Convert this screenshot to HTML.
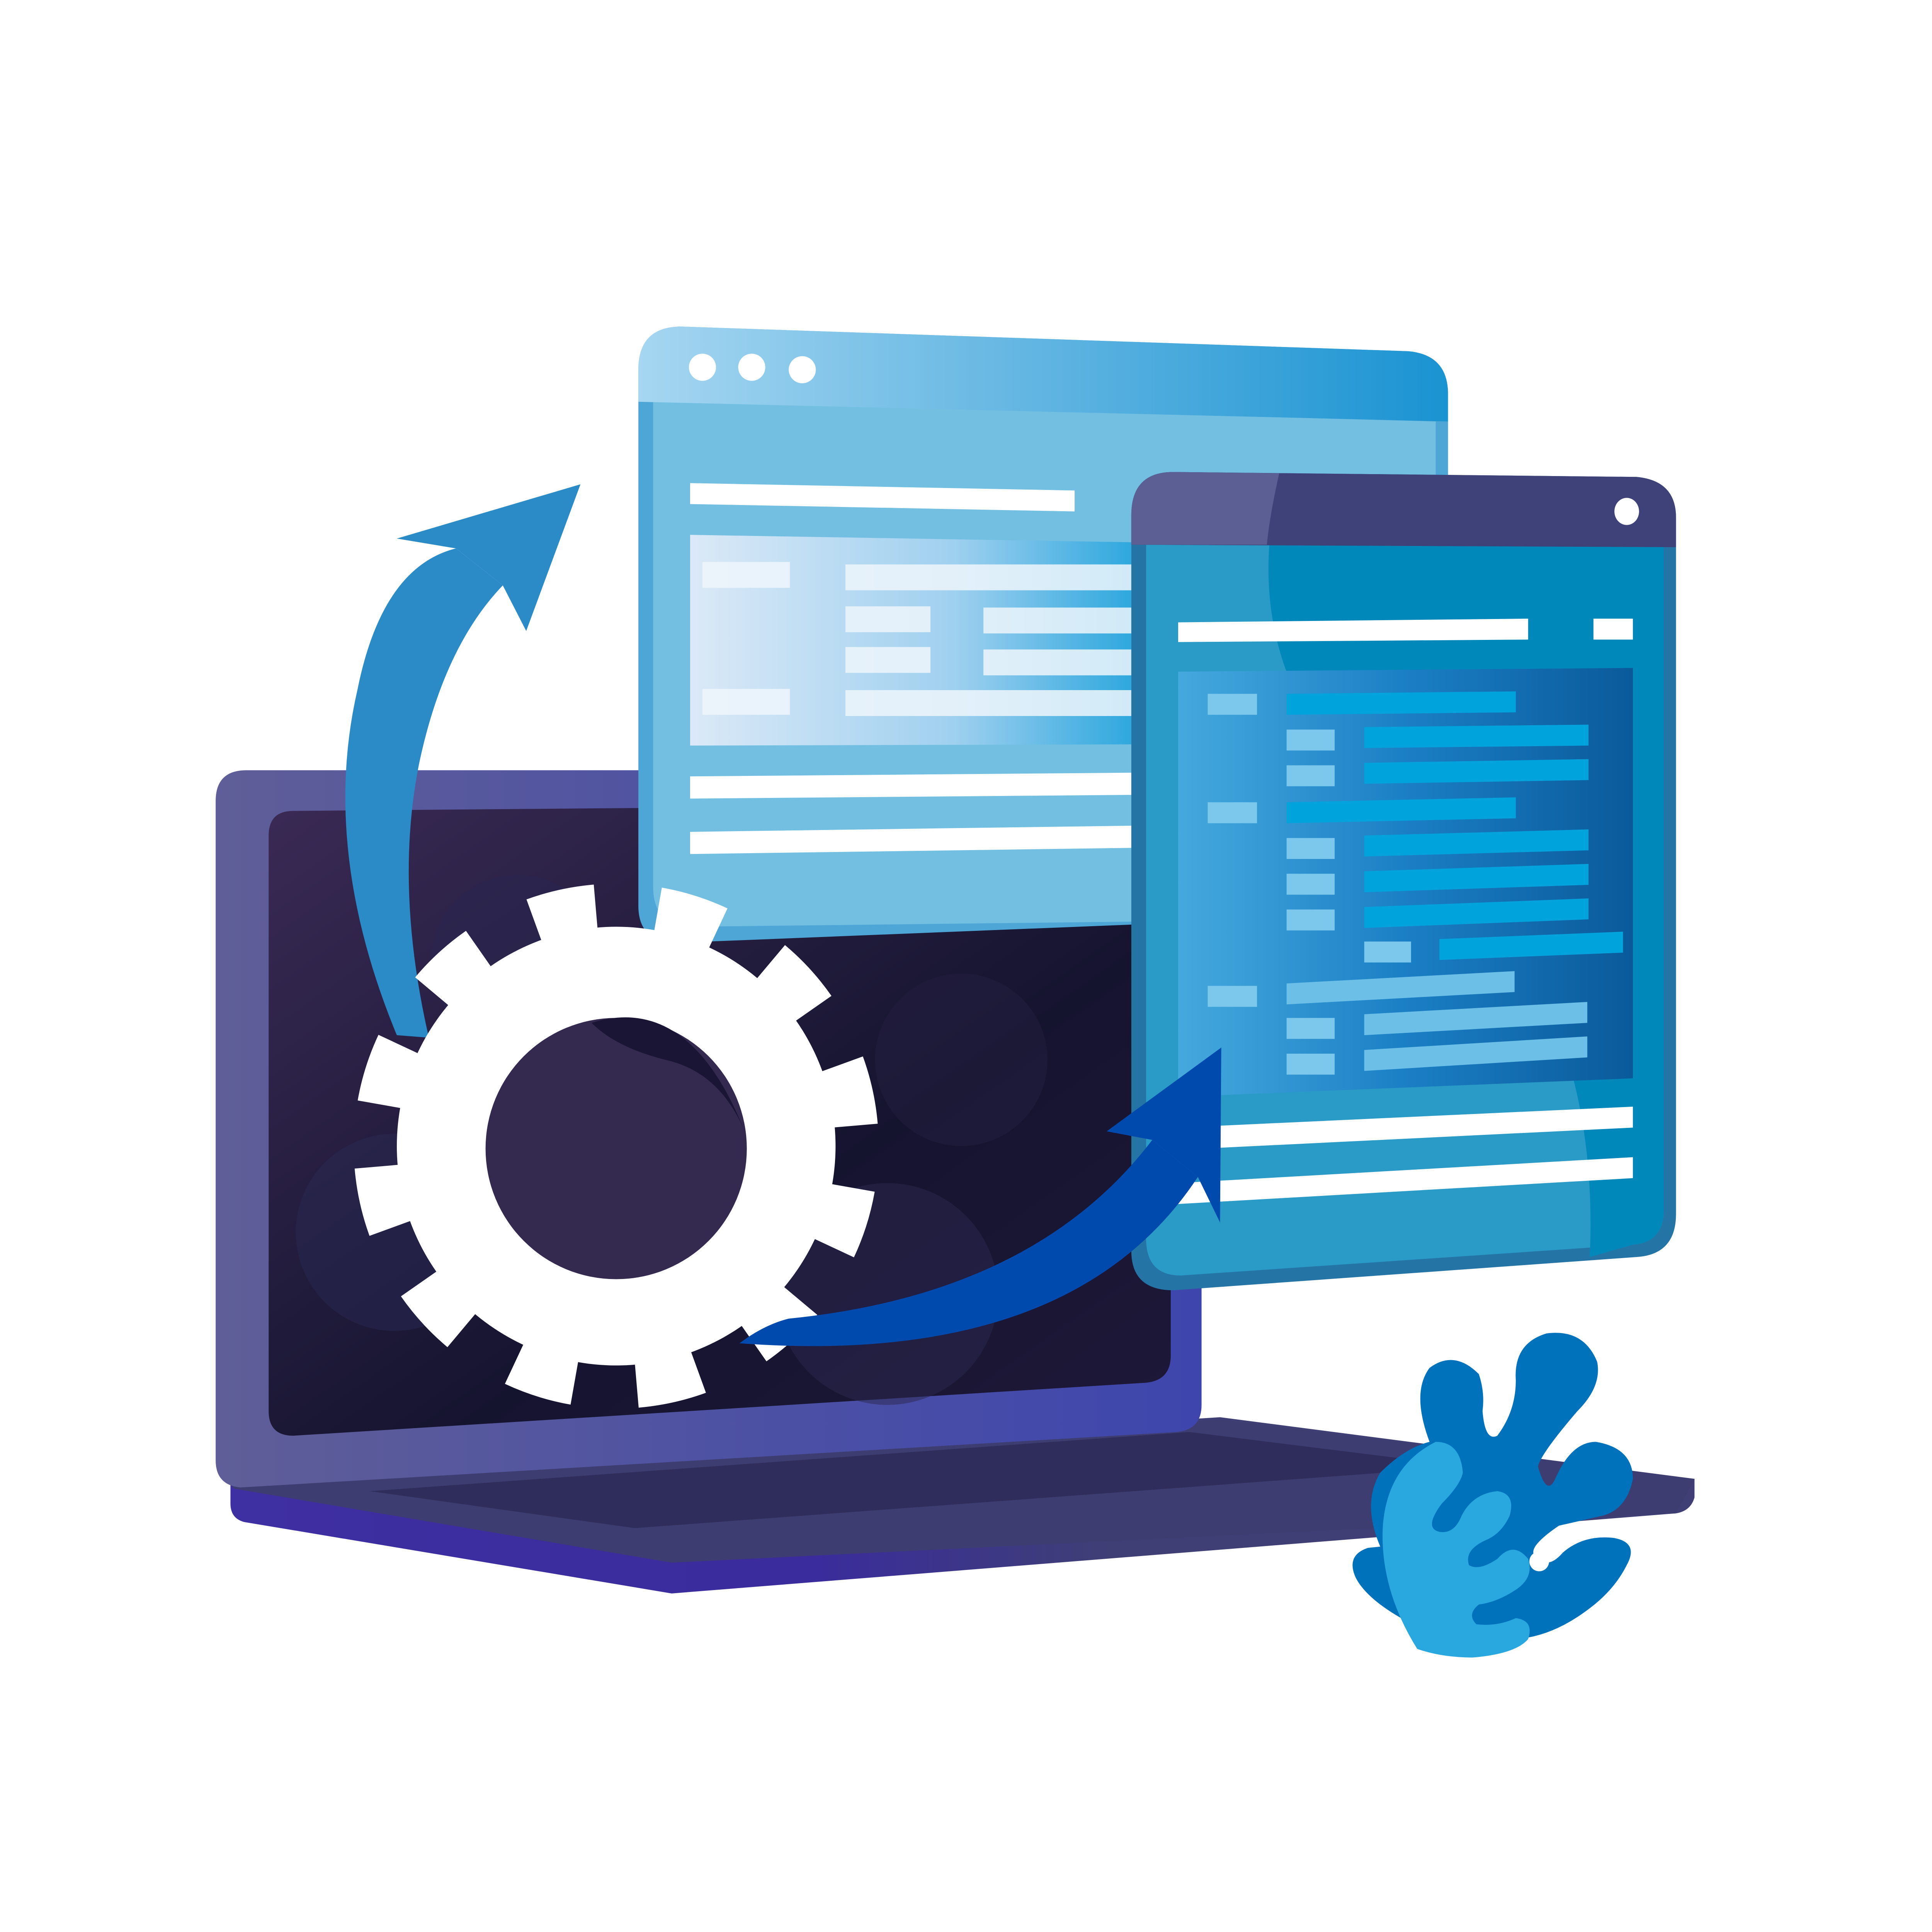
<!DOCTYPE html>
<html><head><meta charset="utf-8"><style>html,body{margin:0;padding:0;background:#fff;overflow:hidden;width:5154px;height:5154px}svg{display:block}</style></head>
<body>
<svg width="5154" height="5154" viewBox="0 0 1616 1616" xmlns="http://www.w3.org/2000/svg">
<defs>
<linearGradient id="lapF" x1="0" x2="1"><stop offset="0" stop-color="#63619a"/><stop offset="1" stop-color="#2b2aa0"/></linearGradient>
<linearGradient id="scr" x1="0" x2="1" y1="0" y2="1"><stop offset="0" stop-color="#3a2a55"/><stop offset="0.6" stop-color="#15142f"/><stop offset="1" stop-color="#1e1838"/></linearGradient>
<linearGradient id="bar1" x1="0" x2="1"><stop offset="0" stop-color="#a6d6f1"/><stop offset="1" stop-color="#1a93d2"/></linearGradient>
<linearGradient id="tbl1" x1="0" x2="1"><stop offset="0" stop-color="#dbe9f7"/><stop offset="0.6" stop-color="#9fd0ef"/><stop offset="1" stop-color="#2fa8de"/></linearGradient>
<linearGradient id="tbl2" x1="0" x2="1"><stop offset="0" stop-color="#45a9de"/><stop offset="0.5" stop-color="#1b7fc5"/><stop offset="1" stop-color="#0a5a9a"/></linearGradient>
<linearGradient id="base" x1="0" x2="1"><stop offset="0" stop-color="#3e2fa2"/><stop offset="0.4" stop-color="#3a2c9c"/><stop offset="0.6" stop-color="#3f3f75"/></linearGradient>
<linearGradient id="frame" x1="0" x2="1"><stop offset="0" stop-color="#5f5e98"/><stop offset="1" stop-color="#3e46ad"/></linearGradient>
</defs>
<path d="M187,1200 L990,1150 L1375,1200 L1375,1215 Q1372,1226 1360,1228 L545,1293 L198,1235 Q187,1232 187,1220 Z" fill="url(#base)"/>
<path d="M187,1205 L990,1152 L1375,1200 L1360,1228 L545,1268 L190,1208 Z" fill="#3e3d72"/>
<path d="M300,1210 L965,1162 L1190,1190 L515,1240 Z" fill="#2f2d5c"/>
<path d="M175,650 Q175,625 200,625 L975,625 L975,1140 Q975,1160 955,1162 L195,1207 Q175,1205 175,1185 Z" fill="url(#frame)"/>
<path d="M218,678 Q218,658 238,658 L950,652 L950,1100 Q950,1120 930,1122 L238,1165 Q218,1165 218,1145 Z" fill="url(#scr)"/>
<circle cx="420" cy="780" r="70" fill="#2a2750" opacity="0.6"/>
<circle cx="320" cy="1000" r="80" fill="#272752" opacity="0.5"/>
<circle cx="720" cy="1050" r="90" fill="#2c2850" opacity="0.5"/>
<circle cx="780" cy="860" r="70" fill="#241d3f" opacity="0.5"/>
<path d="M518,300 Q518,265 553,265 L1143,285 Q1175,288 1175,320 L1175,740 L550,765 Q518,765 518,735 Z" fill="#4ea6d6"/>
<path d="M530,325 L1165,342 L1165,745 L560,752 Q530,750 530,720 Z" fill="#72bfe2"/>
<path d="M518,300 Q518,265 553,265 L1143,285 Q1175,288 1175,320 L1175,342 L518,326 Z" fill="url(#bar1)"/>
<circle cx="570" cy="298" r="11" fill="#fff"/><circle cx="610" cy="298" r="11" fill="#fff"/><circle cx="651" cy="300" r="11" fill="#fff"/>
<polygon points="560,392 872,398 872,415 560,409" fill="#fff"/>
<polygon points="560,434 918,440 918,604 560,605" fill="url(#tbl1)"/>
<g fill="#eef6fc" opacity="0.85">
<rect x="570" y="456" width="71" height="21"/><rect x="686" y="458" width="232" height="21"/>
<rect x="686" y="492" width="69" height="21"/><rect x="798" y="493" width="120" height="21"/>
<rect x="686" y="525" width="69" height="21"/><rect x="798" y="527" width="120" height="21"/>
<rect x="570" y="559" width="71" height="21"/><rect x="686" y="560" width="232" height="21"/>
</g>
<polygon points="560,630 918,627 918,645 560,648" fill="#fff"/>
<polygon points="560,675 918,670 918,688 560,693" fill="#fff"/>
<path d="M918,418 Q918,383 952,383 L1328,387 Q1360,390 1360,420 L1360,985 Q1360,1018 1328,1020 L952,1047 Q918,1047 918,1015 Z" fill="#2574a6"/>
<path d="M930,442 L1350,444 L1350,982 Q1350,1008 1325,1010 L958,1035 Q930,1035 930,1005 Z" fill="#2a9bc7"/>
<path d="M1030,442 L1350,444 L1350,982 Q1350,1008 1325,1010 L1290,1020 Q1300,800 1150,680 Q1020,580 1030,442 Z" fill="#0088bb"/>
<path d="M918,418 Q918,383 952,383 L1328,387 Q1360,390 1360,420 L1360,444 L918,442 Z" fill="#3f4278"/>
<path d="M918,418 Q918,383 952,383 L1038,384 Q1030,420 1028,442 L918,442 Z" fill="#5b5f94"/>
<ellipse cx="1320" cy="415" rx="10" ry="11" fill="#fff"/>
<polygon points="956,505 1240,502 1240,519 956,521" fill="#fff"/>
<rect x="1293" y="502" width="32" height="17" fill="#fff"/>
<polygon points="956,545 1325,542 1325,875 956,890" fill="url(#tbl2)"/>
<g fill="#7cc8ec">
<rect x="980" y="563" width="40" height="17"/><rect x="980" y="651" width="40" height="17"/><rect x="980" y="800" width="40" height="17"/>
<rect x="1044" y="592" width="39" height="17"/><rect x="1044" y="621" width="39" height="17"/>
<rect x="1044" y="680" width="39" height="17"/><rect x="1044" y="709" width="39" height="17"/><rect x="1044" y="738" width="39" height="17"/>
<rect x="1044" y="826" width="39" height="17"/><rect x="1044" y="855" width="39" height="17"/><rect x="1107" y="764" width="38" height="17"/>
</g>
<g fill="#00a3dc">
<polygon points="1044,563 1230,561 1230,578 1044,580"/><polygon points="1044,651 1230,647 1230,664 1044,668"/>
<polygon points="1107,590 1289,588 1289,605 1107,607"/><polygon points="1107,619 1289,616 1289,633 1107,636"/>
<polygon points="1107,678 1289,673 1289,690 1107,695"/><polygon points="1107,707 1289,701 1289,718 1107,724"/>
<polygon points="1107,736 1289,729 1289,746 1107,753"/><polygon points="1168,762 1317,756 1317,773 1168,779"/>
</g>
<g fill="#6cc0e8">
<polygon points="1044,798 1229,788 1229,805 1044,815"/><polygon points="1107,823 1288,813 1288,830 1107,840"/>
<polygon points="1107,852 1288,841 1288,858 1107,869"/>
</g>
<polygon points="956,915 1325,898 1325,915 956,933" fill="#fff"/>
<polygon points="956,960 1325,939 1325,956 956,977" fill="#fff"/>
<path d="M322,840 Q260,690 290,560 Q310,460 370,445 L408,475 Q360,525 340,620 Q320,720 348,842 Z" fill="#2a8bc6"/>
<polygon points="322,437 471,393 427,512 408,475 370,445" fill="#2a8bc6"/>
<g transform="rotate(10 500 930)">
<circle cx="500" cy="930" r="178" fill="#fff"/>
<circle cx="500" cy="930" r="190" fill="none" stroke="#fff" stroke-width="46" stroke-dasharray="50 49.48"/>
</g>
<circle cx="500" cy="932" r="106" fill="#34294f"/>
<path d="M480,830 Q560,805 605,920 Q585,870 540,860 Q500,850 480,830 Z" fill="#1a1535"/>
<path d="M600,1090 Q620,1075 640,1070 Q840,1050 935,925 L972,955 Q870,1110 600,1090 Z" fill="#004aad"/>
<polygon points="898,918 991,850 990,992 972,955 935,925" fill="#004aad"/>
<g fill="#0072bc">
<path d="M1160,1170 Q1145,1130 1160,1110 Q1180,1095 1200,1115 Q1205,1130 1203,1145 Q1205,1170 1215,1165 Q1230,1145 1230,1120 Q1228,1090 1255,1082 Q1285,1078 1296,1105 Q1300,1125 1280,1145 Q1250,1180 1248,1190 Q1255,1215 1262,1200 Q1275,1170 1295,1170 Q1325,1175 1325,1200 Q1320,1225 1300,1230 L1265,1238 Q1240,1255 1245,1262 Q1255,1275 1268,1260 Q1285,1245 1310,1248 Q1330,1252 1320,1270 Q1310,1290 1290,1305 Q1260,1328 1230,1330 L1150,1320 Q1110,1300 1100,1280 Q1092,1262 1110,1256 L1120,1255 Q1105,1220 1120,1195 Q1140,1175 1160,1170 Z"/>
</g>
<path d="M1150,1338 Q1120,1290 1122,1240 Q1125,1190 1165,1170 Q1185,1170 1187,1195 Q1185,1205 1170,1220 Q1155,1240 1168,1243 Q1180,1245 1186,1230 Q1195,1212 1215,1210 Q1230,1212 1225,1230 Q1218,1245 1205,1250 Q1188,1258 1192,1270 Q1200,1275 1215,1265 Q1228,1250 1240,1265 Q1245,1280 1230,1290 Q1215,1300 1200,1302 Q1190,1310 1198,1318 Q1215,1320 1230,1313 Q1245,1315 1240,1330 Q1230,1342 1195,1345 Q1170,1345 1150,1338 Z" fill="#29a8e0"/>
<circle cx="1249" cy="1267" r="8" fill="#fff"/>
</svg>
</body></html>
